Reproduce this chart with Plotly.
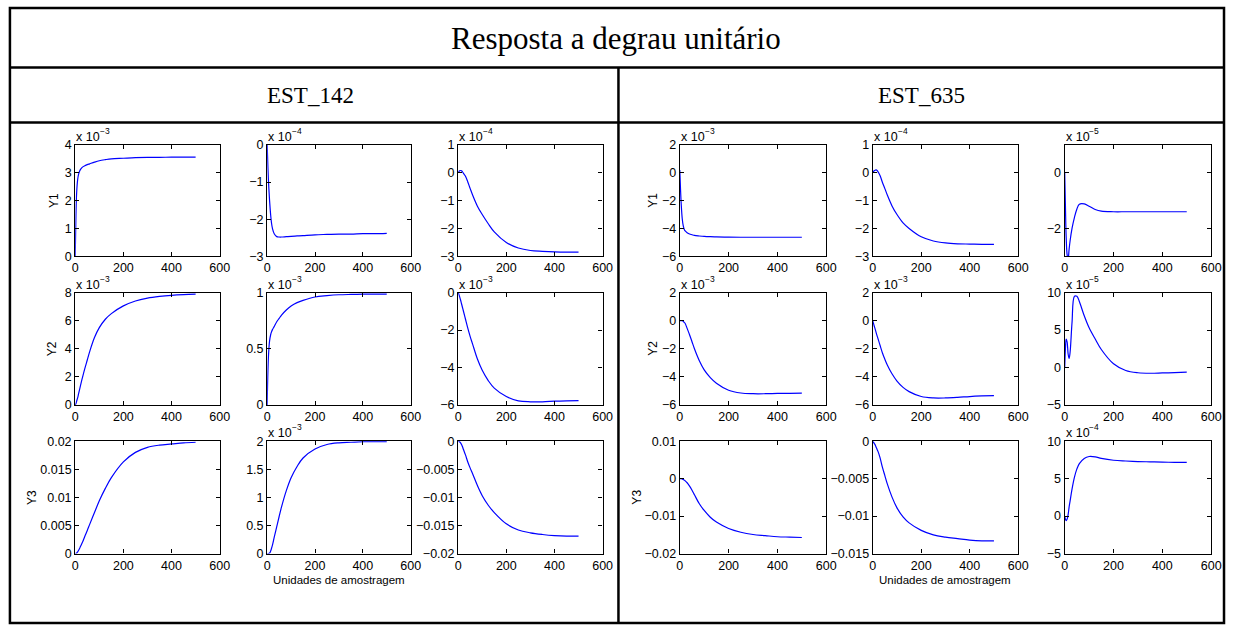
import plotly.graph_objects as go

W, H = 1235, 631

# Sample instants (units of sampling) shared by every response
STEPS = [0, 3, 6, 10, 14, 18, 22, 30, 40, 50, 60, 80, 100, 125, 150, 200, 250, 300, 350, 400, 450, 500]

# ---- EST_142 step responses (mantissas; exponent per panel) ----
e142_y1_u1 = [0, 1.5, 2.3, 2.75, 2.95, 3.05, 3.12, 3.2, 3.25, 3.29, 3.32, 3.38, 3.43, 3.47, 3.5, 3.52, 3.54, 3.55, 3.55, 3.56, 3.56, 3.56]
e142_y1_u2 = [0, -0.6, -1.05, -1.5, -1.85, -2.1, -2.25, -2.4, -2.47, -2.48, -2.48, -2.47, -2.46, -2.45, -2.44, -2.42, -2.41, -2.4, -2.4, -2.39, -2.39, -2.38]
e142_y1_u3 = [0, 0.04, 0.07, 0.08, 0.07, 0.03, -0.02, -0.12, -0.33, -0.57, -0.8, -1.2, -1.5, -1.83, -2.12, -2.5, -2.7, -2.79, -2.82, -2.84, -2.85, -2.85]
e142_y2_u1 = [0, 0.1, 0.28, 0.5, 0.8, 1.1, 1.4, 1.95, 2.6, 3.2, 3.8, 4.8, 5.5, 6.1, 6.5, 7.05, 7.4, 7.6, 7.72, 7.8, 7.85, 7.88]
e142_y2_u2 = [0, 0.3, 0.46, 0.57, 0.62, 0.65, 0.67, 0.7, 0.74, 0.77, 0.8, 0.845, 0.88, 0.91, 0.93, 0.96, 0.972, 0.98, 0.983, 0.985, 0.985, 0.985]
e142_y2_u3 = [0, -0.1, -0.22, -0.4, -0.6, -0.8, -1.0, -1.4, -1.9, -2.35, -2.75, -3.55, -4.15, -4.7, -5.1, -5.55, -5.78, -5.83, -5.83, -5.8, -5.78, -5.77]
e142_y3_u1 = [0, 0.00003, 0.0001, 0.0003, 0.0006, 0.0009, 0.0013, 0.002, 0.0031, 0.0041, 0.0052, 0.0073, 0.0094, 0.0116, 0.0135, 0.0163, 0.018, 0.0189, 0.0193, 0.0195, 0.0197, 0.0198]
e142_y3_u2 = [0, 0.0, 0.0, 0.01, 0.04, 0.09, 0.15, 0.3, 0.48, 0.66, 0.83, 1.12, 1.35, 1.55, 1.7, 1.86, 1.94, 1.97, 1.98, 1.99, 1.99, 1.99]
e142_y3_u3 = [0, -0.00003, -0.0001, -0.0003, -0.0006, -0.001, -0.0015, -0.0024, -0.0037, -0.0048, -0.0058, -0.0079, -0.0097, -0.0114, -0.0127, -0.0147, -0.0158, -0.0163, -0.0166, -0.0168, -0.0169, -0.0169]

# ---- EST_635 step responses ----
e635_y1_u1 = [0.2, -1.2, -2.3, -3.3, -3.8, -4.05, -4.18, -4.3, -4.4, -4.45, -4.5, -4.54, -4.57, -4.59, -4.6, -4.62, -4.63, -4.63, -4.63, -4.63, -4.63, -4.63]
e635_y1_u2 = [0, 0.04, 0.07, 0.09, 0.1, 0.08, 0.03, -0.1, -0.35, -0.57, -0.8, -1.2, -1.5, -1.8, -2.0, -2.3, -2.45, -2.52, -2.55, -2.56, -2.57, -2.57]
e635_y1_u3 = [0, -1.2, -2.3, -2.95, -3.1, -2.75, -2.45, -2.0, -1.6, -1.3, -1.13, -1.12, -1.2, -1.32, -1.38, -1.4, -1.4, -1.4, -1.4, -1.4, -1.4, -1.4]
e635_y2_u1 = [0, 0.0, 0.0, -0.01, -0.05, -0.12, -0.2, -0.55, -1.0, -1.5, -2.0, -2.85, -3.5, -4.05, -4.45, -4.95, -5.15, -5.2, -5.2, -5.18, -5.17, -5.16]
e635_y2_u2 = [0, -0.2, -0.38, -0.6, -0.85, -1.08, -1.3, -1.75, -2.3, -2.75, -3.15, -3.8, -4.3, -4.75, -5.05, -5.4, -5.5, -5.5, -5.46, -5.4, -5.36, -5.33]
e635_y2_u3 = [0, 2.5, 3.8, 3.4, 1.8, 1.2, 2.0, 6.0, 9.5, 9.5, 8.8, 6.9, 5.3, 3.8, 2.4, 0.5, -0.4, -0.7, -0.77, -0.73, -0.68, -0.63]
e635_y3_u1 = [0, 0, -0.00002, -0.0001, -0.0002, -0.0004, -0.0006, -0.0011, -0.002, -0.0031, -0.0043, -0.0067, -0.0085, -0.0103, -0.0116, -0.0133, -0.0143, -0.0149, -0.0152, -0.0155, -0.0156, -0.0157]
e635_y3_u2 = [0, -0.00015, -0.0003, -0.0005, -0.0008, -0.0011, -0.0014, -0.0022, -0.0035, -0.0046, -0.0057, -0.0075, -0.0089, -0.0101, -0.0109, -0.0119, -0.0125, -0.0128, -0.013, -0.0132, -0.0133, -0.0133]
e635_y3_u3 = [0, -0.4, -0.6, -0.4, 0.2, 1.2, 2.0, 3.6, 5.2, 6.3, 7.0, 7.7, 7.95, 7.9, 7.7, 7.45, 7.35, 7.28, 7.24, 7.2, 7.18, 7.17]

X_TICKS = [0, 200, 400, 600]
OUTPUTS = ["Y1", "Y2", "Y3"]
X_LABEL = "Unidades de amostragem"
TITLE = "Resposta a degrau unitário"
STATIONS = ["EST_142", "EST_635"]

# (series, y-range, y tick values, power-of-ten exponent shown above the axes)
panels_142 = [
    [(e142_y1_u1, [0, 4], [0, 1, 2, 3, 4], -3),
     (e142_y1_u2, [-3, 0], [-3, -2, -1, 0], -4),
     (e142_y1_u3, [-3, 1], [-3, -2, -1, 0, 1], -4)],
    [(e142_y2_u1, [0, 8], [0, 2, 4, 6, 8], -3),
     (e142_y2_u2, [0, 1], [0, 0.5, 1], -3),
     (e142_y2_u3, [-6, 0], [-6, -4, -2, 0], -3)],
    [(e142_y3_u1, [0, 0.02], [0, 0.005, 0.01, 0.015, 0.02], None),
     (e142_y3_u2, [0, 2], [0, 0.5, 1, 1.5, 2], -3),
     (e142_y3_u3, [-0.02, 0], [-0.02, -0.015, -0.01, -0.005, 0], None)],
]
panels_635 = [
    [(e635_y1_u1, [-6, 2], [-6, -4, -2, 0, 2], -3),
     (e635_y1_u2, [-3, 1], [-3, -2, -1, 0, 1], -4),
     (e635_y1_u3, [-3, 1], [-2, 0], -5)],
    [(e635_y2_u1, [-6, 2], [-6, -4, -2, 0, 2], -3),
     (e635_y2_u2, [-6, 2], [-6, -4, -2, 0, 2], -3),
     (e635_y2_u3, [-5, 10], [-5, 0, 5, 10], -5)],
    [(e635_y3_u1, [-0.02, 0.01], [-0.02, -0.01, 0, 0.01], None),
     (e635_y3_u2, [-0.015, 0], [-0.015, -0.01, -0.005, 0], None),
     (e635_y3_u3, [-5, 10], [-5, 0, 5, 10], -4)],
]

# Axes boxes in pixels
COLS_142 = [(73, 219), (267, 412), (460, 606)]
COLS_635 = [(684, 832), (879, 1026), (1073, 1221)]
ROWS = [(141, 255), (292, 407), (444, 559)]
YLABEL_X_142 = [51, 49, 30]
YLABEL_X_635 = [657, 657, 641]

SANS = "Liberation Sans, Arial, Helvetica, sans-serif"
SERIF = "Liberation Serif, Times New Roman, serif"
TICK_SIZE = 12.5


def fmt(v):
    s = "%g" % v
    return s.replace("-", "\u2212")


def px(x):
    return x / W


def py(y):
    return 1 - y / H


def label(x, y, text, size, family=SANS, xanchor="center", angle=0):
    return dict(x=px(x), y=py(y), xref="paper", yref="paper", showarrow=False,
                xanchor=xanchor, yanchor="middle", textangle=angle, text=text,
                font=dict(family=family, size=size, color="black"))


fig = go.Figure()
annotations = []
idx = 0

for panels, cols, ylx in ((panels_142, COLS_142, YLABEL_X_142), (panels_635, COLS_635, YLABEL_X_635)):
    for r, row in enumerate(panels):
        y0, y1 = ROWS[r]
        for c, (series, yr, yt, expo) in enumerate(row):
            idx += 1
            x0, x1 = cols[c]
            xa = "x" if idx == 1 else "x%d" % idx
            ya = "y" if idx == 1 else "y%d" % idx
            fig.add_trace(go.Scatter(
                x=STEPS, y=series, mode="lines", xaxis=xa, yaxis=ya,
                line=dict(color="#0000ff", width=1.2, shape="spline", smoothing=1.0),
                showlegend=False, hoverinfo="skip"))
            axis_common = dict(
                showline=True, linecolor="black", linewidth=1.3, mirror="ticks",
                ticks="inside", ticklen=4, tickwidth=1, tickcolor="black",
                showgrid=False, zeroline=False,
                tickfont=dict(family=SANS, size=TICK_SIZE, color="black"))
            fig.update_layout(**{
                ("xaxis" if idx == 1 else "xaxis%d" % idx): dict(
                    domain=[px(x0), px(x1)], anchor=ya, range=[0, 600],
                    tickvals=X_TICKS, ticktext=[fmt(v) for v in X_TICKS], **axis_common),
                ("yaxis" if idx == 1 else "yaxis%d" % idx): dict(
                    domain=[py(y1), py(y0)], anchor=xa, range=yr,
                    tickvals=yt, ticktext=[fmt(v) for v in yt], **axis_common),
            })
            if expo is not None:
                # "x 10" multiplier with a raised exponent
                annotations.append(label(x0 - 1, y0 - 8, "x 10", 12.5, xanchor="left"))
                annotations.append(label(x0 + 23, y0 - 14, fmt(expo), 8.5, xanchor="left"))
            if c == 0:
                annotations.append(label(ylx[r], (y0 + y1) / 2, OUTPUTS[r], 12, angle=-90))
            if r == 2 and c == 1:
                annotations.append(label((x0 + x1) / 2, 586, X_LABEL, 11.5))

# Table headings
annotations.append(label(620, 32, TITLE, 31, family=SERIF))
for name, cx in zip(STATIONS, (311, 928)):
    annotations.append(label(cx, 90, name, 23, family=SERIF))

# Table rules
rule = dict(color="black", width=2.5)
shapes = [
    dict(type="rect", xref="paper", yref="paper", x0=px(7), x1=px(1234), y0=py(630), y1=py(1), line=rule),
    dict(type="line", xref="paper", yref="paper", x0=px(7), x1=px(1234), y0=py(62), y1=py(62), line=rule),
    dict(type="line", xref="paper", yref="paper", x0=px(7), x1=px(1234), y0=py(118), y1=py(118), line=rule),
    dict(type="line", xref="paper", yref="paper", x0=px(622), x1=px(622), y0=py(62), y1=py(630), line=rule),
]

fig.update_layout(
    width=W, height=H, margin=dict(l=0, r=0, t=0, b=0),
    paper_bgcolor="white", plot_bgcolor="white",
    annotations=annotations, shapes=shapes, showlegend=False,
)

fig.write_html("out.html")
